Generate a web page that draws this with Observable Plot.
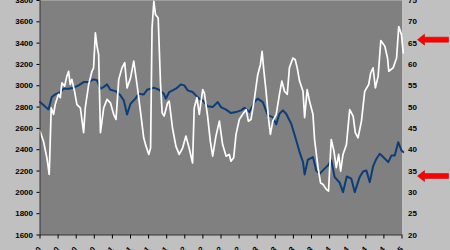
<!DOCTYPE html>
<html><head><meta charset="utf-8">
<script src="https://cdn.jsdelivr.net/npm/d3@7"></script>
<script src="https://cdn.jsdelivr.net/npm/@observablehq/plot@0.6"></script>
<style>html,body{margin:0;padding:0;background:#c0c0c0;overflow:hidden}</style>
</head><body><div id="chart"></div><script>
// x tick labels (one per period boundary; mostly cropped in the original)
const xTickLabels = ["Jan-00","Apr-00","Jul-00","Oct-00","Jan-01","Apr-01","Jul-01","Oct-01","Jan-02","Apr-02","Jul-02","Oct-02","Jan-03","Apr-03","Jul-03","Oct-03","Jan-04","Apr-04","Jul-04","Oct-04","Jan-05"];
const leftTicks = [1600,1800,2000,2200,2400,2600,2800,3000,3200,3400,3600,3800];
const rightTicks = [20,25,30,35,40,45,50,55,60,65,70,75];
const arrowLevels = [65.7, 33.7];

// blue series (left axis)
const blueT = [0,0.47,0.65,0.84,1.12,1.30,1.58,1.86,2.13,2.41,
2.69,2.96,3.15,3.34,3.52,3.70,3.89,4.17,4.44,4.63,
4.81,5.00,5.27,5.46,5.73,5.92,6.29,6.57,6.84,6.95,
7.14,7.51,7.78,7.97,8.16,8.43,8.61,8.80,8.99,9.26,
9.54,9.82,10.00,10.28,10.55,10.83,11.11,11.29,11.57,11.84,
12.03,12.31,12.59,12.86,13.05,13.23,13.42,13.60,13.88,14.16,
14.34,14.53,14.62,14.80,15.08,15.26,15.45,15.63,15.91,16.09,
16.28,16.55,16.74,16.95,17.20,17.39,17.66,17.85,18.03,18.22,
18.40,18.59,18.77,18.96,19.24,19.42,19.60,19.79,19.97,20.07];
const blueV = [2847,2778,2894,2919,2941,2973,2973,2982,3004,3035,
3035,3060,3051,2973,2988,3013,2963,2950,2910,2863,
2731,2832,2879,2926,2919,2963,2982,2963,2926,2879,
2941,2973,3013,3004,2957,2941,2910,2879,2863,2807,
2800,2847,2800,2776,2744,2753,2769,2794,2753,2847,
2879,2847,2722,2706,2638,2738,2769,2738,2644,2487,
2378,2284,2168,2306,2331,2206,2175,2206,2253,2300,
2143,2093,2002,2149,2128,2002,2143,2196,2206,2096,
2243,2316,2362,2331,2284,2347,2347,2471,2393,2378];

// white series (right axis)
const whiteT = [0,0.19,0.38,0.51,0.62,0.75,0.84,1.02,1.12,1.21,
1.36,1.48,1.58,1.67,1.76,1.91,2.04,2.23,2.41,2.50,
2.69,2.87,2.96,3.06,3.15,3.24,3.34,3.52,3.70,3.89,
4.07,4.20,4.35,4.53,4.68,4.81,5.00,5.18,5.36,5.55,
5.73,5.83,6.01,6.11,6.19,6.29,6.38,6.53,6.66,6.75,
6.86,7.05,7.14,7.32,7.51,7.69,7.88,8.06,8.24,8.43,
8.52,8.67,8.80,8.99,9.08,9.26,9.41,9.54,9.72,9.91,
10.09,10.28,10.46,10.55,10.70,10.83,11.01,11.20,11.39,11.51,
11.66,11.84,12.03,12.18,12.27,12.37,12.49,12.62,12.73,12.86,
13.05,13.23,13.36,13.51,13.66,13.78,13.97,14.10,14.21,14.34,
14.53,14.62,14.76,14.89,15.08,15.17,15.36,15.50,15.63,15.82,
15.94,16.09,16.24,16.37,16.50,16.61,16.74,16.93,17.11,17.30,
17.42,17.57,17.76,17.94,18.16,18.27,18.40,18.53,18.68,18.83,
19.05,19.20,19.27,19.51,19.70,19.82,19.97,20.07];
const whiteV = [44.4,42.0,38.1,34.2,49.8,48.3,50.6,53.0,52.2,55.7,
54.9,57.2,58.4,55.3,56.5,53.7,50.6,49.8,44.0,49.8,
55.3,58.4,59.2,67.4,64.3,62.3,44.0,49.8,51.8,51.0,
48.3,47.1,56.5,59.2,60.4,54.5,56.8,60.8,55.3,49.0,
42.8,41.2,38.9,40.4,68.5,74.8,71.7,70.9,55.3,48.6,
47.9,51.0,51.4,45.1,40.8,38.9,40.4,43.2,40.4,36.9,
49.8,52.2,48.3,54.1,53.3,47.9,42.0,38.5,43.2,46.7,
41.2,38.5,38.9,37.3,38.1,43.6,47.1,48.3,49.4,46.7,
47.1,51.8,57.6,60.0,63.1,58.4,53.7,47.5,43.6,46.7,
48.3,53.0,56.1,53.7,53.0,59.2,61.5,61.1,59.2,56.1,
53.7,47.5,54.1,51.4,48.3,42.4,35.8,32.2,31.9,30.7,
30.3,42.4,39.7,35.8,38.9,35.0,38.9,41.2,49.4,47.9,
44.0,42.8,46.7,53.7,55.3,58.0,59.2,54.5,57.2,65.6,
64.3,61.5,58.4,59.2,61.5,68.9,67.0,62.7];

// map right-axis values onto the left scale (20..75 <-> 1600..3800)
const toLeft = v => 1600 + (v - 20) * 40;
const fromLeft = v => String(Math.round((v - 1600) / 40 + 20));

const blue = blueT.map((t, i) => ({t, v: blueV[i]}));
const white = whiteT.map((t, i) => ({t, v: toLeft(whiteV[i])}));

function arrows(index, scales, values, dims) {
  const g = d3.create("svg:g");
  const x0 = dims.width - dims.marginRight + 16;
  for (const a of arrowLevels) {
    const y = scales.y(toLeft(a));
    g.append("path")
      .attr("d", `M${x0},${y}L${x0+7},${y-5.5}L${x0+7},${y-2.5}L${x0+31},${y-2.5}L${x0+31},${y+2.5}L${x0+7},${y+2.5}L${x0+7},${y+5.5}Z`)
      .attr("fill", "#ff0000")
      .attr("stroke", "#b00000")
      .attr("stroke-width", 0.5);
  }
  return g.node();
}

const chart = Plot.plot({
  width: 450,
  height: 250,
  marginLeft: 39.5,
  marginRight: 48.5,
  marginTop: 0,
  marginBottom: 15.5,
  style: {background: "#c0c0c0", fontFamily: "'Liberation Sans', Arial, sans-serif", fontSize: "8px", fontWeight: "bold", color: "black", overflow: "visible"},
  x: {domain: [0, 20]},
  y: {domain: [1600, 3800]},
  marks: [
    Plot.frame({fill: "#808080", stroke: null}),
    Plot.line(blue, {x: "t", y: "v", stroke: "#0b3d7a", strokeWidth: 2}),
    Plot.line(white, {x: "t", y: "v", stroke: "#ffffff", strokeWidth: 1.7}),
    Plot.ruleX([0], {stroke: "#333"}),
    Plot.ruleY([1600], {stroke: "#333"}),
    Plot.axisY({ticks: leftTicks, tickFormat: d => String(d), tickSize: 3, tickPadding: 4, label: null}),
    Plot.axisY({anchor: "right", ticks: rightTicks.map(toLeft), tickFormat: fromLeft, tickSize: 0, tickPadding: 6, label: null}),
    Plot.axisX({ticks: d3.range(21), tickFormat: i => xTickLabels[i], tickRotate: -45, tickSize: 4, tickPadding: 9, label: null}),
    arrows
  ]
});
document.getElementById("chart").appendChild(chart);
</script></body></html>
